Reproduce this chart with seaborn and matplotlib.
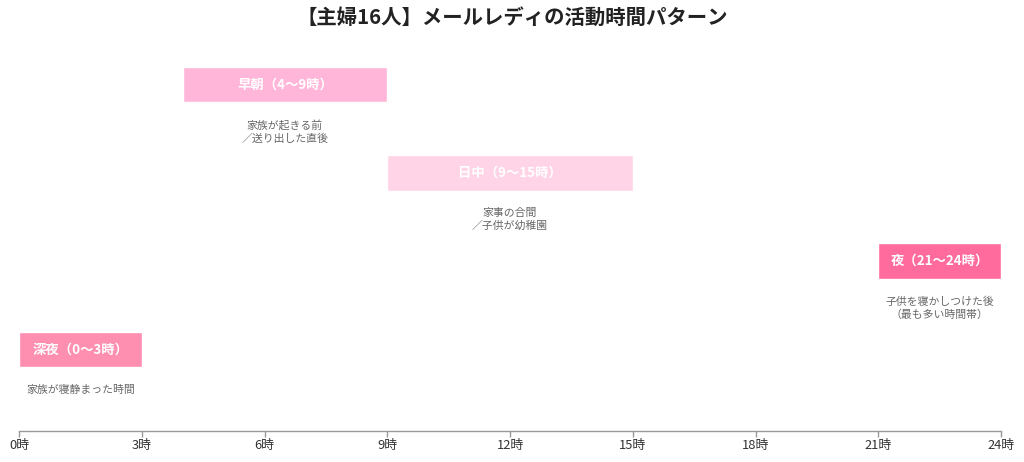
import matplotlib
matplotlib.use("Agg")
import matplotlib.pyplot as plt
import seaborn as sns

# --- data ---
periods = ["早朝", "日中", "夜", "深夜"]
starts = [4, 9, 21, 0]
ends = [9, 15, 24, 3]
notes = [
    "家族が起きる前\n／送り出した直後",
    "家事の合間\n／子供が幼稚園",
    "子供を寝かしつけた後\n（最も多い時間帯）",
    "家族が寝静まった時間",
]
tick_hours = [0, 3, 6, 9, 12, 15, 18, 21, 24]
tick_labels = [f"{h}時" for h in tick_hours]
bar_colors = ["#FFB6D9", "#FFD4E6", "#FF6B9D", "#FF8FB1"]

sns.set_theme(style="white")
plt.rcParams["font.family"] = ["Noto Sans CJK JP", "DejaVu Sans"]


def main():
    fig = plt.figure(figsize=(10.24, 4.62), dpi=100)
    ax = fig.add_axes([19 / 1024, 1 - 431 / 462, 982 / 1024, 391 / 462])

    ypos = list(range(len(periods)))
    widths = [e - s for s, e in zip(starts, ends)]
    ax.barh(ypos, widths, left=starts, height=0.4, color=bar_colors,
            edgecolor="white", linewidth=1)

    for y, s, e, p, n in zip(ypos, starts, ends, periods, notes):
        mid = (s + e) / 2
        ax.text(mid, y, f"{p}（{s}〜{e}時）", ha="center", va="center",
                color="white", fontsize=9.6, fontweight="bold")
        ax.text(mid, y + 0.4, n, ha="center", va="top", color="#666666",
                fontsize=7.8, linespacing=1.3)

    ax.set_xlim(0, 24)
    ax.set_ylim(3 + 81.5 / 88, -0.506)
    ax.set_xticks(tick_hours)
    ax.set_xticklabels(tick_labels, fontsize=9.3, color="#333333")
    ax.set_yticks([])
    ax.tick_params(axis="x", length=4, width=1, color="#999999", pad=2,
                   bottom=True)
    for side in ["left", "right", "top"]:
        ax.spines[side].set_visible(False)
    ax.spines["bottom"].set_color("#999999")
    ax.spines["bottom"].set_linewidth(1)

    fig.text(0.5, 1 - 17 / 462, "【主婦16人】メールレディの活動時間パターン",
             ha="center", va="center", fontsize=14.7, fontweight="bold",
             color="#222222")

    fig.savefig("out.png", dpi=100)


if __name__ == "__main__":
    main()
